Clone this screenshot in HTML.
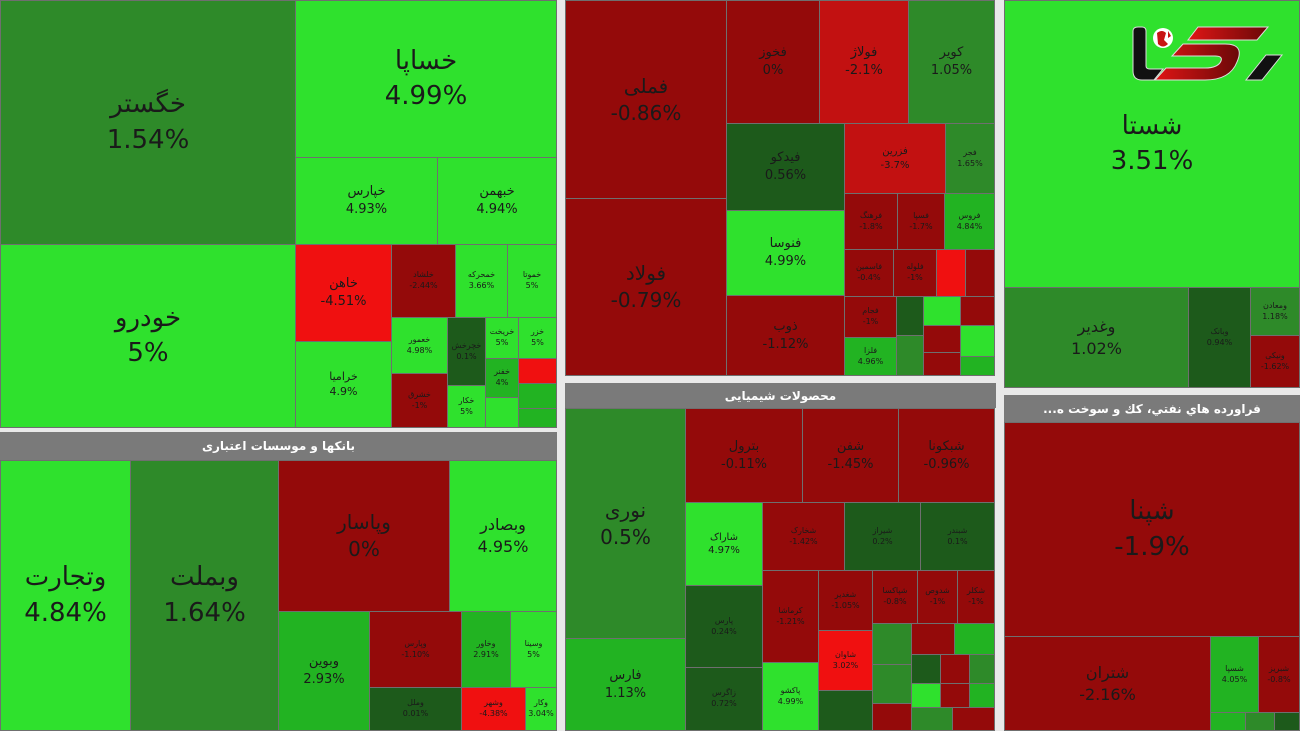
<!DOCTYPE html>
<html><head><meta charset="utf-8"><style>
body{margin:0;width:1300px;height:731px;background:#e9e9e9;position:relative;overflow:hidden;font-family:"DejaVu Sans","Liberation Sans",sans-serif}
.c{position:absolute;box-sizing:border-box;border:1px solid #6f6f6f;display:flex;flex-direction:column;align-items:center;justify-content:center;color:#1a1a1a;text-align:center;line-height:1.35;overflow:hidden}
.L{font-size:26px}.M{font-size:13px}.S{font-size:8px}
.h{position:absolute;background:#7a7a7a;color:#fff;font-weight:bold;font-size:12px;display:flex;align-items:center;justify-content:center;box-sizing:border-box}
.g1{background:#2fe12d}.g2{background:#22b322}.g3{background:#2e8a29}.g4{background:#1d5a1b}
.r1{background:#f01010}.r2{background:#c21111}.r3{background:#940a0a}
</style></head><body>
<!-- Panel A -->
<div class="c g3 L" style="left:0;top:0;width:296px;height:245px">خگستر<br>1.54%</div>
<div class="c g1 L" style="left:0;top:244px;width:296px;height:184px">خودرو<br>5%</div>
<div class="c g1 L" style="left:295px;top:0;width:262px;height:158px">خساپا<br>4.99%</div>
<div class="c g1 M" style="left:295px;top:157px;width:143px;height:88px">خپارس<br>4.93%</div>
<div class="c g1 M" style="left:437px;top:157px;width:120px;height:88px">خبهمن<br>4.94%</div>
<div class="c r1 M" style="left:295px;top:244px;width:97px;height:98px">خاهن<br>-4.51%</div>
<div class="c g1 S" style="left:295px;top:341px;width:97px;height:87px;font-size:11px">خرامیا<br>4.9%</div>
<div class="c r3 S" style="left:391px;top:244px;width:65px;height:74px">خلشاد<br>-2.44%</div>
<div class="c g1 S" style="left:455px;top:244px;width:53px;height:74px">خمحرکه<br>3.66%</div>
<div class="c g1 S" style="left:507px;top:244px;width:50px;height:74px">خموتا<br>5%</div>
<div class="c g1 S" style="left:391px;top:317px;width:57px;height:57px">خعمور<br>4.98%</div>
<div class="c r3 S" style="left:391px;top:373px;width:57px;height:55px">خشرق<br>-1%</div>
<div class="c g4 S" style="left:447px;top:317px;width:39px;height:69px">خچرخش<br>0.1%</div>
<div class="c g1 S" style="left:447px;top:385px;width:39px;height:43px">خکار<br>5%</div>
<div class="c g1 S" style="left:485px;top:317px;width:34px;height:42px">خریخت<br>5%</div>
<div class="c g1 S" style="left:518px;top:317px;width:39px;height:42px">خزر<br>5%</div>
<div class="c g2 S" style="left:485px;top:358px;width:34px;height:40px">خفنر<br>4%</div>
<div class="c r1 S" style="left:518px;top:358px;width:39px;height:26px"></div>
<div class="c g2 S" style="left:518px;top:383px;width:39px;height:26px"></div>
<div class="c g1 S" style="left:485px;top:397px;width:34px;height:31px"></div>
<div class="c g2 S" style="left:518px;top:408px;width:39px;height:20px"></div>
<!-- Panel B -->
<div class="h" style="left:0;top:432px;width:557px;height:28px">بانکها و موسسات اعتباری</div>
<div class="c g1 L" style="left:0;top:460px;width:131px;height:271px">وتجارت<br>4.84%</div>
<div class="c g3 L" style="left:130px;top:460px;width:149px;height:271px">وبملت<br>1.64%</div>
<div class="c r3 L" style="left:278px;top:460px;width:172px;height:152px;font-size:20px">وپاسار<br>0%</div>
<div class="c g1 M" style="left:449px;top:460px;width:108px;height:152px;font-size:16px">وبصادر<br>4.95%</div>
<div class="c g2 M" style="left:278px;top:611px;width:92px;height:120px">وبوین<br>2.93%</div>
<div class="c r3 S" style="left:369px;top:611px;width:93px;height:77px">وپارس<br>-1.10%</div>
<div class="c g4 S" style="left:369px;top:687px;width:93px;height:44px">وملل<br>0.01%</div>
<div class="c g2 S" style="left:461px;top:611px;width:50px;height:77px">وخاور<br>2.91%</div>
<div class="c g1 S" style="left:510px;top:611px;width:47px;height:77px">وسینا<br>5%</div>
<div class="c r1 S" style="left:461px;top:687px;width:65px;height:44px">وشهر<br>-4.38%</div>
<div class="c g1 S" style="left:525px;top:687px;width:32px;height:44px">وکار<br>3.04%</div>
<!-- Panel C -->
<div class="c r3 L" style="left:565px;top:0;width:162px;height:199px;font-size:20px">فملی<br>-0.86%</div>
<div class="c r3 L" style="left:565px;top:198px;width:162px;height:178px;font-size:20px">فولاد<br>-0.79%</div>
<div class="c r3 M" style="left:726px;top:0;width:94px;height:124px">فخوز<br>0%</div>
<div class="c r2 M" style="left:819px;top:0;width:90px;height:124px">فولاژ<br>-2.1%</div>
<div class="c g3 M" style="left:908px;top:0;width:87px;height:124px">کویر<br>1.05%</div>
<div class="c g4 M" style="left:726px;top:123px;width:119px;height:88px">فیدکو<br>0.56%</div>
<div class="c g1 M" style="left:726px;top:210px;width:119px;height:86px">فنوسا<br>4.99%</div>
<div class="c r3 M" style="left:726px;top:295px;width:119px;height:81px">ذوب<br>-1.12%</div>
<div class="c r2 S" style="left:844px;top:123px;width:102px;height:71px;font-size:10px">فزرین<br>-3.7%</div>
<div class="c g3 S" style="left:945px;top:123px;width:50px;height:71px">فجر<br>1.65%</div>
<div class="c r3 S" style="left:844px;top:193px;width:54px;height:57px">فرهنگ<br>-1.8%</div>
<div class="c r3 S" style="left:897px;top:193px;width:48px;height:57px">فسپا<br>-1.7%</div>
<div class="c g2 S" style="left:944px;top:193px;width:51px;height:57px">فروس<br>4.84%</div>
<div class="c r3 S" style="left:844px;top:249px;width:50px;height:48px">فاسمین<br>-0.4%</div>
<div class="c r3 S" style="left:893px;top:249px;width:44px;height:48px">فلوله<br>-1%</div>
<div class="c r1 S" style="left:936px;top:249px;width:30px;height:48px"></div>
<div class="c r3 S" style="left:965px;top:249px;width:30px;height:48px"></div>
<div class="c r3 S" style="left:844px;top:296px;width:53px;height:42px">فجام<br>-1%</div>
<div class="c g2 S" style="left:844px;top:337px;width:53px;height:39px">فلزا<br>4.96%</div>
<div class="c g4 S" style="left:896px;top:296px;width:28px;height:40px"></div>
<div class="c g3 S" style="left:896px;top:335px;width:28px;height:41px"></div>
<div class="c g1 S" style="left:923px;top:296px;width:38px;height:30px"></div>
<div class="c r3 S" style="left:923px;top:325px;width:38px;height:28px"></div>
<div class="c r3 S" style="left:923px;top:352px;width:38px;height:24px"></div>
<div class="c r3 S" style="left:960px;top:296px;width:35px;height:30px"></div>
<div class="c g1 S" style="left:960px;top:325px;width:35px;height:32px"></div>
<div class="c g2 S" style="left:960px;top:356px;width:35px;height:20px"></div>
<!-- Panel D -->
<div class="c g1 L" style="left:1004px;top:0;width:296px;height:288px">شستا<br>3.51%</div>
<div class="c g3 M" style="left:1004px;top:287px;width:185px;height:101px;font-size:16px">وغدیر<br>1.02%</div>
<div class="c g4 S" style="left:1188px;top:287px;width:63px;height:101px">وبانک<br>0.94%</div>
<div class="c g3 S" style="left:1250px;top:287px;width:50px;height:49px">ومعادن<br>1.18%</div>
<div class="c r3 S" style="left:1250px;top:335px;width:50px;height:53px">ونیکی<br>-1.62%</div>
<svg style="position:absolute;left:0;top:0" width="1300" height="100">
<defs><linearGradient id="rg" x1="0" x2="1"><stop offset="0" stop-color="#e01515"/><stop offset="1" stop-color="#6a0808"/></linearGradient></defs>
<path d="M1133 31 Q1133 27 1138 27 L1142 27 Q1146 27 1146 31 L1146 66 Q1146 69 1150 69 L1163 69 L1154 80 L1142 80 Q1133 80 1133 71 Z" fill="#111" stroke="#ddd" stroke-width="1"/>
<path d="M1198 27 L1268 27 L1257 40 L1188 40 Z" fill="url(#rg)" stroke="#ddd" stroke-width="1"/>
<path d="M1183 44 L1225 44 Q1245 44 1237 62 Q1230 80 1205 80 L1155 80 L1166 68 L1205 68 Q1218 68 1221 61 Q1223 56 1215 56 L1172 56 Z" fill="url(#rg)" stroke="#ddd" stroke-width="1"/>
<path d="M1266 55 L1282 55 L1262 80 L1246 80 Z" fill="#111" stroke="#ddd" stroke-width="1"/>
<circle cx="1163" cy="38" r="10" fill="#fff"/>
<path d="M1157 33 Q1162 29 1166 33 L1164 40 L1168 44 Q1163 49 1158 44 Z M1168 31 L1171 36 L1168 38 Z" fill="#c81414"/>
</svg>
<!-- Panel E -->
<div class="h" style="left:565px;top:383px;width:431px;height:25px">محصولات شیمیایی</div>
<div class="c g3 L" style="left:565px;top:408px;width:121px;height:231px;font-size:20px">نوری<br>0.5%</div>
<div class="c g2 M" style="left:565px;top:638px;width:121px;height:93px">فارس<br>1.13%</div>
<div class="c r3 M" style="left:685px;top:408px;width:118px;height:95px">بترول<br>-0.11%</div>
<div class="c r3 M" style="left:802px;top:408px;width:97px;height:95px">شفن<br>-1.45%</div>
<div class="c r3 M" style="left:898px;top:408px;width:97px;height:95px">شبکونا<br>-0.96%</div>
<div class="c g1 S" style="left:685px;top:502px;width:78px;height:84px;font-size:10px">شاراک<br>4.97%</div>
<div class="c r3 S" style="left:762px;top:502px;width:83px;height:69px">شخارک<br>-1.42%</div>
<div class="c g4 S" style="left:844px;top:502px;width:77px;height:69px">شیراز<br>0.2%</div>
<div class="c g4 S" style="left:920px;top:502px;width:75px;height:69px">شبندر<br>0.1%</div>
<div class="c g4 S" style="left:685px;top:585px;width:78px;height:83px">پارس<br>0.24%</div>
<div class="c g4 S" style="left:685px;top:667px;width:78px;height:64px">زاگرس<br>0.72%</div>
<div class="c r3 S" style="left:762px;top:570px;width:57px;height:93px">کرماشا<br>-1.21%</div>
<div class="c g1 S" style="left:762px;top:662px;width:57px;height:69px">پاکشو<br>4.99%</div>
<div class="c r3 S" style="left:818px;top:570px;width:55px;height:61px">شغدیر<br>-1.05%</div>
<div class="c r1 S" style="left:818px;top:630px;width:55px;height:61px">شاوان<br>3.02%</div>
<div class="c g4 S" style="left:818px;top:690px;width:55px;height:41px"></div>
<div class="c r3 S" style="left:872px;top:570px;width:46px;height:54px">شپاکسا<br>-0.8%</div>
<div class="c r3 S" style="left:917px;top:570px;width:41px;height:54px">شدوص<br>-1%</div>
<div class="c r3 S" style="left:957px;top:570px;width:38px;height:54px">شکلر<br>-1%</div>
<div class="c g3 S" style="left:872px;top:623px;width:40px;height:42px"></div>
<div class="c g3 S" style="left:872px;top:664px;width:40px;height:40px"></div>
<div class="c r3 S" style="left:872px;top:703px;width:40px;height:28px"></div>
<div class="c r3 S" style="left:911px;top:623px;width:44px;height:32px"></div>
<div class="c g2 S" style="left:954px;top:623px;width:41px;height:32px"></div>
<div class="c g4 S" style="left:911px;top:654px;width:30px;height:30px"></div>
<div class="c r3 S" style="left:940px;top:654px;width:30px;height:30px"></div>
<div class="c g3 S" style="left:969px;top:654px;width:26px;height:30px"></div>
<div class="c g1 S" style="left:911px;top:683px;width:30px;height:25px"></div>
<div class="c r3 S" style="left:940px;top:683px;width:30px;height:25px"></div>
<div class="c g2 S" style="left:969px;top:683px;width:26px;height:25px"></div>
<div class="c g3 S" style="left:911px;top:707px;width:42px;height:24px"></div>
<div class="c r3 S" style="left:952px;top:707px;width:43px;height:24px"></div>
<!-- Panel F -->
<div class="h" style="left:1004px;top:395px;width:296px;height:27px">...فراورده هاي نفتي، كك و سوخت ه</div>
<div class="c r3 L" style="left:1004px;top:422px;width:296px;height:215px">شپنا<br>-1.9%</div>
<div class="c r3 M" style="left:1004px;top:636px;width:207px;height:95px;font-size:16px">شتران<br>-2.16%</div>
<div class="c g2 S" style="left:1210px;top:636px;width:49px;height:77px">شسپا<br>4.05%</div>
<div class="c r3 S" style="left:1258px;top:636px;width:42px;height:77px">شبریز<br>-0.8%</div>
<div class="c g2 S" style="left:1210px;top:712px;width:36px;height:19px"></div>
<div class="c g3 S" style="left:1245px;top:712px;width:30px;height:19px"></div>
<div class="c g4 S" style="left:1274px;top:712px;width:26px;height:19px"></div>
</body></html>
